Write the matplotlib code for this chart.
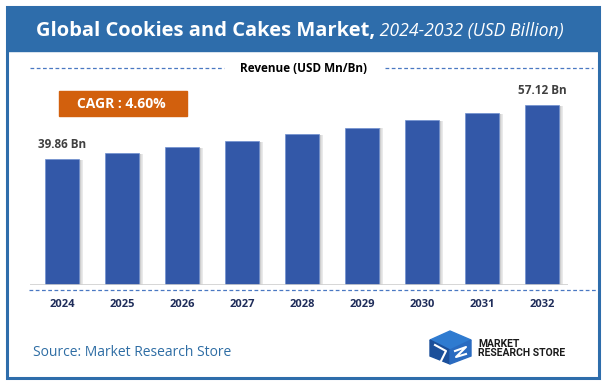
import matplotlib.pyplot as plt
from matplotlib.patches import Rectangle, Polygon

# data
years = ["2024", "2025", "2026", "2027", "2028", "2029", "2030", "2031", "2032"]
revenue = [39.86, 41.69, 43.61, 45.62, 47.72, 49.91, 52.21, 54.61, 57.12]
cagr_text = "CAGR : 4.60%"
title_main = "Global Cookies and Cakes Market,"
title_sub = " 2024-2032 (USD Billion)"
source_text = "Source: Market Research Store"

W, H = 606, 387
bar_color = "#3358A8"
frame_blue = "#2E6DAB"

fig = plt.figure(figsize=(W / 100, H / 100), dpi=100)
plt.rcParams['font.family'] = ['Open Sans', 'DejaVu Sans']

# helper: pixel coords (from top-left) -> figure fraction
def fx(x):
    return x / W

def fy(y):
    return 1 - y / H

# background frame and banner
bg = fig.add_axes([0, 0, 1, 1])
bg.set_xlim(0, W)
bg.set_ylim(H, 0)
bg.axis("off")
bg.add_patch(Rectangle((7, 7), 592, 371, fill=False, edgecolor=frame_blue, lw=2.2))
bg.add_patch(Rectangle((7, 7), 592, 44, color=frame_blue))
t1 = bg.text(36, 31, title_main, color="white", fontsize=14.5, fontweight="bold",
             va="center", ha="left")
fig.canvas.draw()
bb = t1.get_window_extent()
bg.text(bb.x1, 31, title_sub, color="white", fontsize=12.7, style="italic",
        va="center", ha="left")

# top dashed line with header
bg.plot([30, 224], [68, 68], ls=(0, (3, 2)), color="#4A78C2", lw=0.9)
bg.plot([385, 593], [68, 68], ls=(0, (3, 2)), color="#4A78C2", lw=0.9)
bg.text(304, 68, "Revenue (USD Mn/Bn)", fontsize=8.5, fontweight="bold",
        ha="center", va="center", color="black")

# CAGR box
bg.add_patch(Rectangle((59, 91), 128, 25, color="#D2600D"))
bg.text(121, 103.5, cagr_text, color="white", fontsize=10, fontweight="bold",
        ha="center", va="center")

# bottom dashed line
bg.plot([29, 598], [290, 290], ls=(0, (3, 2)), color="#4A78C2", lw=0.9)

# source
bg.text(33, 352, source_text, color="#2E6DA4", fontsize=10, ha="left", va="center")

# logo (simplified)
bg.add_patch(Polygon([[430, 340], [450, 331], [471, 340], [450, 350]], color="#2F7BD0"))
bg.add_patch(Polygon([[430, 340], [450, 350], [450, 364], [430, 356]], color="#1B4F9A"))
bg.add_patch(Polygon([[450, 350], [471, 340], [471, 356], [450, 364]], color="#2A6BC0"))
bg.plot([435, 446, 441], [345, 351, 361], color="white", lw=1.5)
bg.plot([455, 466, 456, 466], [351, 347, 357, 354], color="white", lw=1.5)
bg.text(478, 344, "MARKET", fontsize=7.5, fontweight="bold", va="center", ha="left",
        color="#1A1A1A", family="Roboto")
bg.text(478, 353, "RESEARCH STORE", fontsize=7.5, fontweight="bold", va="center",
        ha="left", color="#1A1A1A", family="Roboto")

# bar chart axes
left, right, bottom, top = 30, 568, 285, 80
ax = fig.add_axes([fx(left), fy(bottom), fx(right - left), fy(top) - fy(bottom)])
ax.patch.set_alpha(0)
x = list(range(len(years)))
ymax = (bottom - top) / 3.155
ax.set_ylim(0, ymax)
ax.set_xlim(-0.533, 8.433)

# soft shadow to the right of each bar
for k in range(6):
    ax.bar([i + 0.285 + 0.012 * k + 0.006 for i in x],
           [v - 0.3 for v in revenue], width=0.012, color="gray",
           alpha=0.45 - 0.07 * k, lw=0)

ax.bar(x, revenue, width=0.57, color=bar_color, edgecolor="#6F8FCF", lw=0.5, zorder=3)

ax.axhline(0, color="#D0D0D0", lw=1.2, zorder=4)
for s in ax.spines.values():
    s.set_visible(False)
ax.set_yticks([])
ax.set_xticks(x)
ax.set_xticklabels(years, fontsize=8, fontweight="bold", color="#1F2D5A")
ax.tick_params(axis="x", length=0, pad=10)

# first and last labels
ax.text(x[0], revenue[0] + 2.6, f"{revenue[0]:.2f} Bn", ha="center", va="bottom",
        fontsize=8.5, fontweight="bold", color="#404040")
ax.text(x[-1], revenue[-1] + 2.6, f"{revenue[-1]:.2f} Bn", ha="center", va="bottom",
        fontsize=8.5, fontweight="bold", color="#404040")

fig.savefig("out.png", dpi=100)
